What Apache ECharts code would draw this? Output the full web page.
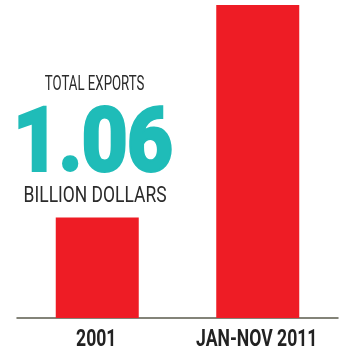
<!DOCTYPE html>
<html>
<head>
<meta charset="utf-8">
<style>
  html, body { margin: 0; padding: 0; background: #fff; }
  #chart { width: 342px; height: 351px; }
</style>
<script src="https://cdn.jsdelivr.net/npm/echarts@6/dist/echarts.min.js"></script>
</head>
<body>
<div id="chart"></div>
<script>
// Export totals, billion dollars
const periods = ['2001', 'JAN-NOV 2011'];
const exportsValue = [0.34, 1.06];
const headlineTop = 'TOTAL EXPORTS';
const headlineValue = '1.06';
const headlineUnit = 'BILLION DOLLARS';

const FAMILY = 'Roboto, "Noto Sans", sans-serif';

// Fit a line of text into a box: font size from the ink height,
// horizontal squeeze from the ink width, for a condensed look.
const measureCtx = document.createElement('canvas').getContext('2d');
measureCtx.textBaseline = 'middle';
measureCtx.textAlign = 'left';
function fitText(text, weight, inkHeight, inkWidth, pad) {
  pad = pad || 0;
  const base = 100;
  measureCtx.font = weight + ' ' + base + 'px ' + FAMILY;
  const m = measureCtx.measureText(text);
  const h = m.actualBoundingBoxAscent + m.actualBoundingBoxDescent;
  const w = m.actualBoundingBoxLeft + m.actualBoundingBoxRight;
  const size = base * (inkHeight - pad) / h;
  const k = size / base;
  const scaleX = (inkWidth - pad) / (w * k);
  return {
    font: weight + ' ' + size.toFixed(2) + 'px ' + FAMILY,
    ascent: m.actualBoundingBoxAscent * k + pad / 2,
    // shift from ink left edge back to the text origin
    leftShift: m.actualBoundingBoxLeft * k * scaleX,
    scaleX: scaleX
  };
}

function headline(text, weight, left, top, right, bottom, fill, stroke) {
  const f = fitText(text, weight, bottom - top, right - left, stroke);
  return {
    type: 'text',
    x: left + f.leftShift + (stroke ? stroke / 2 : 0),
    y: top + f.ascent,
    scaleX: f.scaleX,
    style: {
      text: text, font: f.font, fill: fill,
      textAlign: 'left', textVerticalAlign: 'middle',
      stroke: stroke ? fill : null, lineWidth: stroke || 0,
      lineJoin: 'round'
    }
  };
}

// category label style: cap height 18, "JAN-NOV 2011" spans 118px
const label = fitText('JAN-NOV 2011', 'bold', 18, 118);

const chart = echarts.init(document.getElementById('chart'), null, { renderer: 'canvas' });
chart.setOption({
  animation: false,
  backgroundColor: '#ffffff',
  grid: { left: 17, right: 4, top: 5, bottom: 33 },
  xAxis: {
    type: 'category',
    data: periods,
    axisLine: { show: true, lineStyle: { color: '#5b5b4c', width: 1.5 } },
    axisTick: { show: false },
    axisLabel: { show: false }
  },
  yAxis: {
    type: 'value',
    min: 0,
    max: 1.06,
    show: false,
    splitLine: { show: false }
  },
  series: [
    {
      type: 'bar',
      data: exportsValue,
      barWidth: 83,
      itemStyle: { color: '#ee1c25' }
    },
    {
      // condensed category labels placed under each bar
      type: 'custom',
      data: periods.map((p, i) => [i, 0]),
      clip: false,
      silent: true,
      renderItem: function (params, api) {
        const pt = api.coord([api.value(0), 0]);
        return {
          type: 'text',
          x: pt[0] - 1,
          y: pt[1] + 10 + label.ascent,
          scaleX: label.scaleX,
          style: {
            text: periods[params.dataIndex],
            font: label.font,
            fill: '#222222',
            textAlign: 'center',
            textVerticalAlign: 'middle'
          }
        };
      }
    }
  ],
  graphic: [
    headline(headlineTop, 'normal', 45, 75, 144, 90, '#2b2b2b'),
    headline(headlineValue, 'bold', 18, 105, 172, 173, '#1fbcb8', 4),
    headline(headlineUnit, 'normal', 25, 185, 166, 202, '#2b2b2b')
  ]
});
</script>
</body>
</html>
